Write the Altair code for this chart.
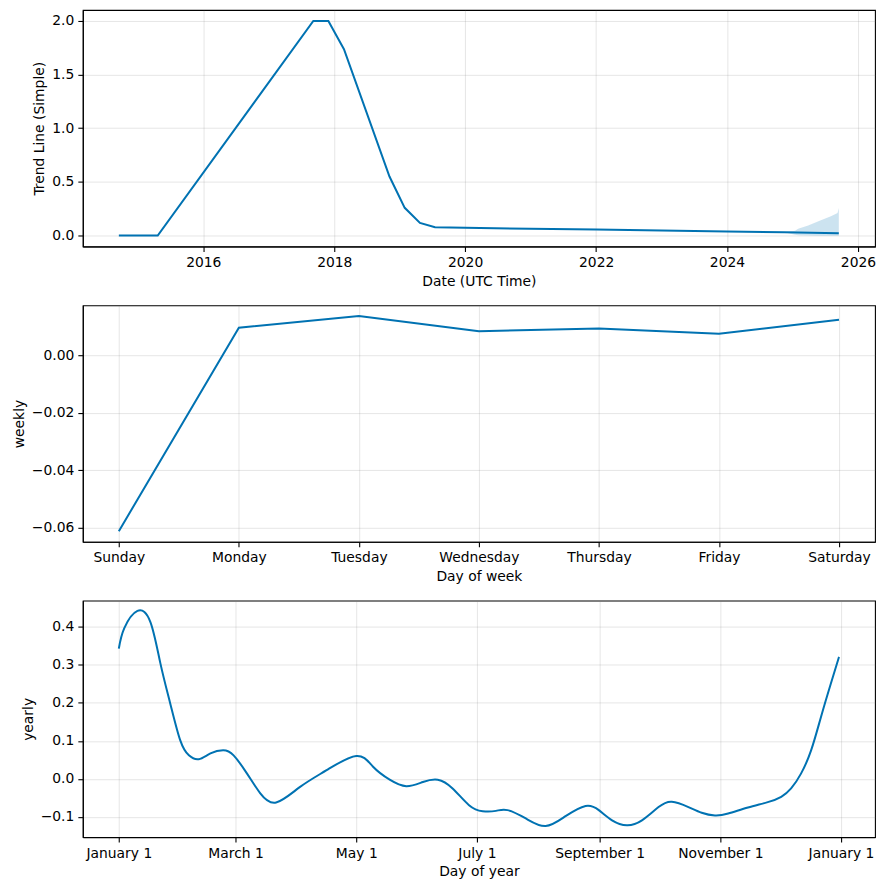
import altair as alt
import pandas as pd
from datetime import datetime, timedelta

BLUE = "#0072B2"
FONT = "DejaVu Sans"

# ---- Trend panel data ----
trend_dates = ["2014-09-17", "2015-04-22", "2017-09-06", "2017-11-29", "2018-02-24",
               "2018-11-05", "2019-01-29", "2019-04-24", "2019-07-17", "2020-01-01",
               "2022-01-01", "2024-01-01", "2024-11-15", "2025-09-16"]
trend_values = [0.0, 0.0, 2.0, 2.0, 1.737,
                0.55, 0.258, 0.118, 0.077, 0.072,
                0.055, 0.037, 0.030, 0.020]

band_dates = ["2024-11-15", "2025-01-15", "2025-02-01", "2025-03-29", "2025-06-08",
              "2025-08-03", "2025-09-09", "2025-09-16"]
band_lower = [0.030, 0.006, 0.002, 0.0, -0.002, -0.003, -0.003, -0.003]
band_upper = [0.030, 0.045, 0.062, 0.093, 0.142, 0.180, 0.210, 0.257]

# ---- Weekly panel data ----
week_days = ["Sunday", "Monday", "Tuesday", "Wednesday", "Thursday", "Friday", "Saturday"]
week_values = [-0.0612, 0.0096, 0.0137, 0.0084, 0.0093, 0.0075, 0.0124]

# ---- Yearly panel data (day of year offset from January 1, value) ----
year_days = [0, 2.7, 9.4, 16, 21, 26, 31, 35.4, 40.4, 46.3, 52.7, 58, 64.8, 71.5, 79.5,
             91.6, 105, 120, 128.5, 136.9, 145.3, 153.7, 161.2, 168.7, 177, 183.9, 190.6,
             196.4, 205.7, 215.7, 225.8, 235.9, 242.6, 249.3, 256.8, 264.4, 272.8, 279.5,
             287.9, 294.6, 301.3, 308, 318, 328, 334.8, 339.8, 344.8, 349.9, 354.9, 359.9, 364]
year_values = [0.343, 0.396, 0.442, 0.412, 0.304, 0.198, 0.102, 0.062, 0.052, 0.067, 0.0755,
               0.062, 0.014, -0.038, -0.062, -0.021, 0.023, 0.0605, 0.032, -0.002, -0.019,
               -0.008, -0.002, -0.025, -0.069, -0.085, -0.084, -0.082, -0.104, -0.124, -0.098,
               -0.071, -0.082, -0.109, -0.122, -0.109, -0.074, -0.060, -0.074, -0.089, -0.096,
               -0.091, -0.075, -0.061, -0.047, -0.025, 0.014, 0.075, 0.163, 0.251, 0.321]

W, H = 794, 237

# ---------- Panel 1: trend ----------
trend_df = pd.DataFrame({"ds": trend_dates, "trend": trend_values})
band_df = pd.DataFrame({"ds": band_dates, "lower": band_lower, "upper": band_upper})

x_trend = alt.X(
    "ds:T",
    scale=alt.Scale(type="utc",
                    domain=[alt.DateTime(year=2014, month=2, date=28, utc=True),
                            alt.DateTime(year=2026, month=4, date=6, utc=True)]),
    axis=alt.Axis(title="Date (UTC Time)",
                  labelExpr="utcFormat(datum.value, '%Y')",
                  values=[alt.DateTime(year=y, month=1, date=1, utc=True)
                          for y in [2016, 2018, 2020, 2022, 2024, 2026]]),
)
y_trend_scale = alt.Scale(domain=[-0.102, 2.102], nice=False, zero=False)
y_trend_axis = alt.Axis(title="Trend Line (Simple)", format=".1f",
                        values=[0.0, 0.5, 1.0, 1.5, 2.0])

band = alt.Chart(band_df).mark_area(color=BLUE, opacity=0.2).encode(
    x=x_trend,
    y=alt.Y("lower:Q", scale=y_trend_scale, axis=y_trend_axis),
    y2="upper:Q",
)
trend_line = alt.Chart(trend_df).mark_line(color=BLUE, strokeWidth=2).encode(
    x=x_trend,
    y=alt.Y("trend:Q", scale=y_trend_scale, axis=y_trend_axis),
)
p1 = alt.layer(band, trend_line).properties(width=W, height=H)

# ---------- Panel 2: weekly ----------
week_df = pd.DataFrame({"idx": list(range(len(week_days))), "day": week_days,
                        "weekly": week_values})
label_expr = "[" + ",".join(f"'{d}'" for d in week_days) + "][round(datum.value)]"
p2 = alt.Chart(week_df).mark_line(color=BLUE, strokeWidth=2).encode(
    x=alt.X("idx:Q", scale=alt.Scale(domain=[-0.3, 6.3], nice=False, zero=False),
            axis=alt.Axis(title="Day of week", values=list(range(7)), labelExpr=label_expr)),
    y=alt.Y("weekly:Q", scale=alt.Scale(domain=[-0.0649, 0.0174], nice=False, zero=False),
            axis=alt.Axis(title="weekly", format=".2f", values=[-0.06, -0.04, -0.02, 0.0])),
).properties(width=W, height=H)

# ---------- Panel 3: yearly ----------
base = datetime(2017, 1, 1)
year_ds = [(base + timedelta(days=d)).strftime("%Y-%m-%dT%H:%M:%SZ") for d in year_days]
year_df = pd.DataFrame({"ds": year_ds, "yearly": year_values})
tick_dates = [alt.DateTime(year=2017, month=m, date=1, utc=True) for m in [1, 3, 5, 7, 9, 11]]
tick_dates.append(alt.DateTime(year=2018, month=1, date=1, utc=True))
p3 = alt.Chart(year_df).mark_line(color=BLUE, strokeWidth=2, interpolate="natural").encode(
    x=alt.X("ds:T",
            scale=alt.Scale(type="utc",
                            domain=[alt.DateTime(year=2016, month=12, date=13, hours=19, utc=True),
                                    alt.DateTime(year=2018, month=1, date=18, hours=5, utc=True)]),
            axis=alt.Axis(title="Day of year",
                          labelExpr="utcFormat(datum.value, '%B') + ' ' + utcdate(datum.value)",
                          values=tick_dates)),
    y=alt.Y("yearly:Q", scale=alt.Scale(domain=[-0.153, 0.469], nice=False, zero=False),
            axis=alt.Axis(title="yearly", format=".1f",
                          values=[-0.1, 0.0, 0.1, 0.2, 0.3, 0.4])),
).properties(width=W, height=H)

chart = alt.vconcat(p1, p2, p3, spacing=15).properties(
    padding={"left": 3, "top": 0, "right": 2, "bottom": 2}
).configure_view(
    stroke="black", strokeWidth=1.1
).configure_axis(
    labelFont=FONT, titleFont=FONT, labelFontSize=13.9, titleFontSize=13.9,
    titleFontWeight="normal", labelColor="black", titleColor="black",
    tickColor="black", domainColor="black", domainWidth=1.1, tickWidth=1.1,
    tickSize=5, labelPadding=4, titlePadding=5,
    grid=True, gridColor="gray", gridOpacity=0.2, gridWidth=1,
)

chart.save("out.html", embed_options={"renderer": "svg", "actions": False})
